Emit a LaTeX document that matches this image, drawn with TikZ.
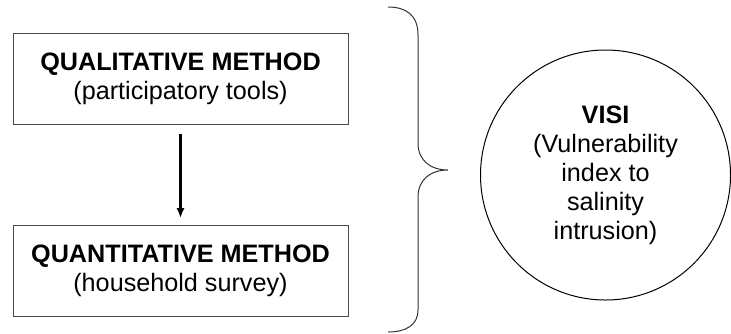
\documentclass[tikz,border=0pt]{standalone}
\usepackage{fontspec}
\setmainfont{Liberation Sans}
\usepackage{xcolor}
\usepackage{tikz}
\usetikzlibrary{arrows.meta,positioning}

\begin{document}
\begin{tikzpicture}[
    x=0.5pt, y=-0.5pt,
    font=\fontsize{12.6}{14.5}\selectfont,
    box/.style={draw=black!70, line width=0.5pt, minimum width=167.5pt, minimum height=45.5pt, align=center},
    visi/.style={draw, circle, line width=0.5pt, minimum size=125pt, align=center, inner sep=0pt},
    arrow/.style={-{Latex[length=5pt,width=4.2pt]}, line width=1.1pt, shorten <=4.5pt, shorten >=3.5pt},
    brace/.style={draw=black!80, line width=0.5pt}
]
\useasboundingbox (0,0) rectangle (731,333);
\node[box] (qual) at (180.5,78.5) {\textbf{QUALITATIVE METHOD}\\(participatory tools)};
\node[box] (quant) at (180.5,271) {\textbf{QUANTITATIVE METHOD}\\(household survey)};
\node[visi] (visi) at (605.5,175) {\textbf{VISI}\\(Vulnerability\\index to\\salinity\\intrusion)};
\draw[arrow] (qual) -- (quant);
% brace joining both methods
\draw[brace] (388,7) .. controls (406,7) and (418,15) .. (418,35) -- (418,143)
  .. controls (418,160) and (430,170) .. (448,170)
  .. controls (430,170) and (418,180) .. (418,197) -- (418,310)
  .. controls (418,325) and (406,332) .. (388,332);
\end{tikzpicture}
\end{document}
